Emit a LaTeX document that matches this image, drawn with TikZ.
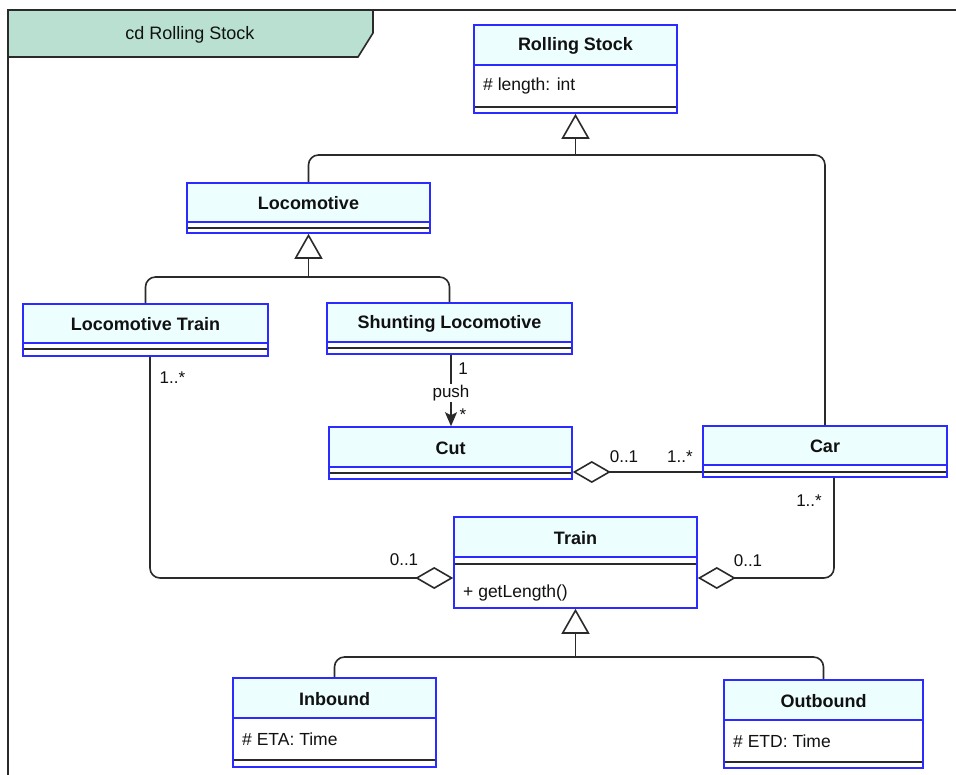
\documentclass[tikz,border=0pt]{standalone}
\usepackage{fontspec}
\setmainfont{Liberation Sans}
\usetikzlibrary{arrows.meta,fit,calc}
\definecolor{umlblue}{HTML}{2B2BFF}
\definecolor{hdrfill}{HTML}{EDFEFF}
\definecolor{tabfill}{HTML}{B9E0D1}
\definecolor{ink}{HTML}{111111}
\definecolor{lineclr}{HTML}{2A2A2A}
\tikzset{
  clsname/.style={font=\fontsize{18}{21}\selectfont\bfseries, text=ink, inner sep=0pt},
  attrtext/.style={font=\fontsize{17.5}{20}\selectfont, text=ink, inner sep=0pt, anchor=west},
  mult/.style={font=\fontsize{17}{19}\selectfont, text=ink, inner sep=0pt},
  conn/.style={draw=lineclr, line width=1.6pt},
  gen/.style={conn, -{Triangle[open, length=25pt, width=28pt, fill=white]}},
  agg/.style={conn, -{Diamond[open, length=38pt, width=22pt, fill=white]}},
  nav/.style={conn, -{Stealth[length=14pt, width=12pt, inset=3pt]}}
}
\newcommand{\umlclass}[8]{%
  \fill[hdrfill] (#2,#3) rectangle (#4,#6);
  \draw[lineclr, line width=1.6pt] (#2,#7) -- (#4,#7);
  \draw[umlblue, line width=1.6pt] (#2,#6) -- (#4,#6);
  \node[draw=umlblue, line width=1.6pt, inner sep=0pt, fit={(#2,#3) (#4,#5)}] (#1) {};
  \node[clsname] (#1-name) at ({(#2+#4)/2},{(#3+#6)/2+1}) {#8};
}
\begin{document}
\begin{tikzpicture}[x=1pt,y=-1pt]
\fill[white] (0,0) rectangle (956,775);
\useasboundingbox (0,0) rectangle (956,775);

% frame
\draw[lineclr, line width=1.6pt] (956,10) -- (8,10) -- (8,775);
\filldraw[fill=tabfill, draw=lineclr, line width=1.6pt] (8,10) -- (373,10) -- (373,33) -- (358,57) -- (8,57) -- cycle;
\node[font=\fontsize{18}{21}\selectfont, text=ink, inner sep=0pt] (tab) at (190,35) {cd Rolling Stock};

% classes
\umlclass{rs}{474}{25}{677}{113}{65}{107}{Rolling Stock}
\node[attrtext] (rs-a) at (483,86) {\# length: int};
\umlclass{loc}{187}{183}{430}{233}{222}{228}{Locomotive}
\umlclass{lt}{23}{304}{268}{356}{343}{349}{Locomotive Train}
\umlclass{sl}{327}{303}{572}{354}{342}{348}{Shunting Locomotive}
\umlclass{cut}{329}{427}{572}{479}{467}{473}{Cut}
\umlclass{car}{703}{426}{947}{477}{465}{472}{Car}
\umlclass{train}{454}{517}{697}{608}{557}{564}{Train}
\node[attrtext] (train-o) at (463,593) {+ getLength()};
\umlclass{inb}{233}{678}{436}{767}{718}{760}{Inbound}
\node[attrtext] (inb-a) at (242,739) {\# ETA: Time};
\umlclass{outb}{724}{680}{923}{768}{720}{762}{Outbound}
\node[attrtext] (outb-a) at (733,741) {\# ETD: Time};

% generalizations
\coordinate (j1) at (575.5,155);
\draw[conn, rounded corners=10pt] (loc.north) |- (j1) -| (car.north);
\draw[gen] (j1) -- (rs.south);
\coordinate (j2) at (308.5,277);
\draw[conn, rounded corners=10pt] (lt.north) |- (j2) -| (sl.north);
\draw[gen] (j2) -- (loc.south);
\coordinate (j3) at (575.5,657);
\draw[conn, rounded corners=10pt] (inb.north) |- (j3) -| (outb.north);
\draw[gen] (j3) -- (train.south);

% aggregations
\draw[agg, rounded corners=10pt] ([xshift=4.5pt]lt.south) |- ([yshift=-15.5pt]train.west);
\draw[agg, rounded corners=10pt] ([xshift=9pt]car.south) |- ([yshift=-15.5pt]train.east);
\draw[agg] ([yshift=-20.5pt]car.west) -- ([yshift=-19pt]cut.east);

% navigable association
\draw[nav] ([xshift=1.5pt]sl.south) -- ([xshift=0.5pt]cut.north)
  node[mult, midway, yshift=-2.5pt, fill=white, inner sep=1.5pt] (push) {push};

% multiplicities
\node[mult] (m1) at (463,369) {1};
\node[mult] (m2) at (463,415) {*};
\node[mult] (m3) at (172.5,378) {1..*};
\node[mult] (m4) at (404,560) {0..1};
\node[mult] (m5) at (748,561) {0..1};
\node[mult] (m6) at (809,501) {1..*};
\node[mult] (m7) at (624,457) {0..1};
\node[mult] (m8) at (680,457) {1..*};
\end{tikzpicture}
\end{document}
